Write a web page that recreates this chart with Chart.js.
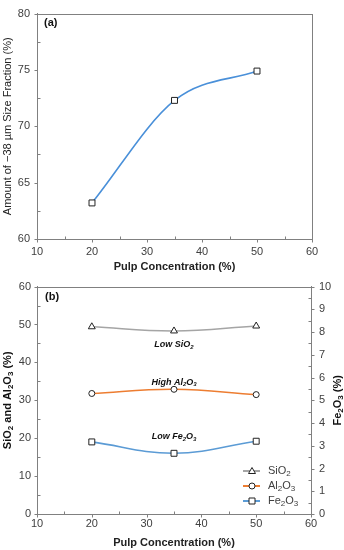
<!DOCTYPE html>
<html>
<head>
<meta charset="utf-8">
<script src="https://cdn.jsdelivr.net/npm/chart.js@4/dist/chart.umd.min.js"></script>
<style>
    html, body { margin: 0; padding: 0; background: #fff; }
    #wrap { position: relative; width: 344px; height: 550px; }
    canvas { position: absolute; left: 0; }
</style>
</head>
<body>
<div id="wrap">
    <canvas id="chartA" width="344" height="272" style="top:0px"></canvas>
    <canvas id="chartB" width="344" height="278" style="top:272px"></canvas>
</div>
<script>
// data
const pulpConc = [20, 35, 50];
const sizeFraction = [63.2, 72.3, 74.9];
const sio2 = [49.4, 48.3, 49.6];
const al2o3 = [31.8, 32.9, 31.5];
const fe2o3 = [3.17, 2.67, 3.2];

// names use _N for a subscript digit
const seriesNames = ['SiO_2', 'Al_2O_3', 'Fe_2O_3'];
const seriesColors = ['#a5a5a5', '#ed7d31', '#5b9bd5'];
const seriesMarkers = ['triangle', 'circle', 'rect'];

const FONT = "'Liberation Sans', Arial, sans-serif";
const AXIS_COLOR = '#808080';
const TEXT_COLOR = '#404040';

Chart.defaults.font.family = FONT;
Chart.defaults.color = TEXT_COLOR;

// Draw a string with _N subscripts
function drawRich(ctx, str, x, y, size, style, align) {
    const parts = [];
    str.split(/(_\d)/).forEach(p => {
        if (!p) return;
        if (p[0] === '_') parts.push({ t: p.slice(1), sub: true });
        else parts.push({ t: p, sub: false });
    });
    const main = style + ' ' + size + 'px ' + FONT;
    const sub = style + ' ' + Math.round(size * 0.7) + 'px ' + FONT;
    let w = 0;
    parts.forEach(p => {
        ctx.font = p.sub ? sub : main;
        p.w = ctx.measureText(p.t).width;
        w += p.w;
    });
    let cx = align === 'center' ? x - w / 2 : x;
    ctx.textAlign = 'left';
    ctx.textBaseline = 'middle';
    parts.forEach(p => {
        ctx.font = p.sub ? sub : main;
        ctx.fillText(p.t, cx, y + (p.sub ? size * 0.28 : 0));
        cx += p.w;
    });
}

function drawMarker(ctx, style, x, y) {
    ctx.save();
    ctx.fillStyle = '#fff';
    ctx.strokeStyle = '#222';
    ctx.lineWidth = 1;
    ctx.beginPath();
    if (style === 'rect') {
        ctx.rect(x - 3, y - 3, 6, 6);
    } else if (style === 'circle') {
        ctx.arc(x, y, 3, 0, Math.PI * 2);
    } else {
        ctx.moveTo(x, y - 3.5);
        ctx.lineTo(x + 3.5, y + 2.5);
        ctx.lineTo(x - 3.5, y + 2.5);
        ctx.closePath();
    }
    ctx.fill();
    ctx.stroke();
    ctx.restore();
}

// Box around the plot plus small tick marks (minor inside, major outside)
function drawFrame(chart, axes) {
    const ctx = chart.ctx;
    const a = chart.chartArea;
    ctx.save();
    ctx.strokeStyle = AXIS_COLOR;
    ctx.lineWidth = 1;
    ctx.strokeRect(Math.round(a.left) + 0.5, Math.round(a.top) + 0.5,
        Math.round(a.right - a.left), Math.round(a.bottom - a.top));
    axes.forEach(ax => {
        const s = chart.scales[ax.id];
        for (let v = s.min; v <= s.max + 1e-9; v += ax.minor) {
            const isMajor = Math.abs(v / ax.major - Math.round(v / ax.major)) < 1e-6;
            const p = Math.round(s.getPixelForValue(v)) + 0.5;
            ctx.beginPath();
            if (ax.side === 'bottom') {
                const y = Math.round(a.bottom) + 0.5;
                ctx.moveTo(p, y);
                ctx.lineTo(p, isMajor ? y + 3 : y - 3);
            } else if (ax.side === 'left') {
                const x = Math.round(a.left) + 0.5;
                ctx.moveTo(x, p);
                ctx.lineTo(isMajor ? x - 3 : x + 3, p);
            } else {
                const x = Math.round(a.right) + 0.5;
                ctx.moveTo(x, p);
                ctx.lineTo(isMajor ? x + 3 : x - 3, p);
            }
            ctx.stroke();
        }
    });
    ctx.restore();
}

function xScale(tickPad, titlePadBottom, height) {
    return {
        type: 'linear',
        min: 10,
        max: 60,
        ticks: { stepSize: 10, padding: tickPad, font: { size: 11 }, color: TEXT_COLOR },
        grid: { display: false, drawTicks: false },
        border: { display: true, color: AXIS_COLOR },
        title: {
            display: true,
            text: 'Pulp Concentration (%)',
            color: '#222',
            font: { size: 11, weight: 'bold', lineHeight: 1 },
            padding: { top: 0, bottom: titlePadBottom }
        },
        afterFit: s => { s.height = height; }
    };
}

// ---- chart (a) ----
new Chart(document.getElementById('chartA'), {
    type: 'line',
    data: {
        datasets: [{
            data: pulpConc.map((x, i) => ({ x: x, y: sizeFraction[i] })),
            borderColor: '#4a90d9',
            borderWidth: 1.6,
            cubicInterpolationMode: 'monotone',
            pointStyle: 'rect',
            pointRadius: 4.2,
            pointBackgroundColor: '#fff',
            pointBorderColor: '#222',
            pointBorderWidth: 1
        }]
    },
    options: {
        responsive: false,
        animation: false,
        devicePixelRatio: 1,
        layout: { autoPadding: false, padding: { top: 6, right: 32, left: 0, bottom: 0 } },
        scales: {
            x: xScale(6, 0, 33),
            y: {
                min: 60,
                max: 80,
                ticks: { stepSize: 5, padding: 7, font: { size: 11 }, color: TEXT_COLOR },
                grid: { display: false, drawTicks: false },
                border: { display: true, color: AXIS_COLOR },
                title: {
                    display: true,
                    text: 'Amount of \u221238 \u00b5m Size Fraction (%)',
                    color: '#222',
                    font: { size: 11, lineHeight: 1 },
                    padding: { top: 2.5, bottom: 0 }
                },
                afterFit: s => { s.width = 37; }
            }
        },
        plugins: { legend: { display: false }, tooltip: { enabled: false } }
    },
    plugins: [{
        id: 'frameA',
        afterDraw(chart) {
            drawFrame(chart, [
                { id: 'x', minor: 5, major: 10, side: 'bottom' },
                { id: 'y', minor: 2.5, major: 5, side: 'left' }
            ]);
            const ctx = chart.ctx;
            ctx.save();
            ctx.fillStyle = '#111';
            drawRich(ctx, '(a)', 44, 23, 11, 'bold', 'left');
            ctx.restore();
        }
    }]
});

// ---- chart (b) ----
const valuesB = [sio2, al2o3, fe2o3];
const axisB = ['y', 'y', 'y1'];

// annotation texts placed at x = 35 (left axis units)
const notes = [
    { text: 'Low SiO_2', y: 44.6 },
    { text: 'High Al_2O_3', y: 34.8 },
    { text: 'Low Fe_2O_3', y: 20.4 }
];

new Chart(document.getElementById('chartB'), {
    type: 'line',
    data: {
        datasets: valuesB.map((vals, k) => ({
            label: seriesNames[k],
            yAxisID: axisB[k],
            data: pulpConc.map((x, i) => ({ x: x, y: vals[i] })),
            borderColor: seriesColors[k],
            borderWidth: 1.6,
            tension: 0.4,
            pointStyle: seriesMarkers[k],
            pointRadius: seriesMarkers[k] === 'rect' ? 4.2 : (seriesMarkers[k] === 'circle' ? 3 : 4),
            pointBackgroundColor: '#fff',
            pointBorderColor: '#222',
            pointBorderWidth: 1
        }))
    },
    options: {
        responsive: false,
        animation: false,
        devicePixelRatio: 1,
        layout: { autoPadding: false, padding: { top: 9, right: 0, left: 0, bottom: 0 } },
        scales: {
            x: xScale(3, 1.5, 36),
            y: {
                position: 'left',
                min: 0,
                max: 60,
                ticks: { stepSize: 10, padding: 6, font: { size: 11 }, color: TEXT_COLOR },
                grid: { display: false, drawTicks: false },
                border: { display: true, color: AXIS_COLOR },
                afterFit: s => { s.width = 37; }
            },
            y1: {
                position: 'right',
                min: 0,
                max: 10,
                ticks: { stepSize: 1, padding: 8, font: { size: 11 }, color: TEXT_COLOR },
                grid: { display: false, drawTicks: false },
                border: { display: true, color: AXIS_COLOR },
                afterFit: s => { s.width = 33; }
            }
        },
        plugins: { legend: { display: false }, tooltip: { enabled: false } }
    },
    plugins: [{
        id: 'frameB',
        afterDraw(chart) {
            drawFrame(chart, [
                { id: 'x', minor: 5, major: 10, side: 'bottom' },
                { id: 'y', minor: 5, major: 10, side: 'left' },
                { id: 'y1', minor: 0.5, major: 1, side: 'right' }
            ]);
            const ctx = chart.ctx;
            const a = chart.chartArea;
            const xs = chart.scales.x, ys = chart.scales.y;
            ctx.save();
            ctx.fillStyle = '#111';
            drawRich(ctx, '(b)', 45, 25, 11, 'bold', 'left');

            // annotations
            notes.forEach(n => {
                drawRich(ctx, n.text, xs.getPixelForValue(35), ys.getPixelForValue(n.y), 9, 'italic bold', 'center');
            });

            // axis titles
            const midY = (a.top + a.bottom) / 2;
            ctx.save();
            ctx.translate(8, midY);
            ctx.rotate(-Math.PI / 2);
            drawRich(ctx, 'SiO_2 and Al_2O_3 (%)', 0, 0, 11, 'bold', 'center');
            ctx.restore();
            ctx.save();
            ctx.translate(338, midY);
            ctx.rotate(-Math.PI / 2);
            drawRich(ctx, 'Fe_2O_3 (%)', 0, 0, 11, 'bold', 'center');
            ctx.restore();

            // legend, bottom right
            seriesNames.forEach((name, k) => {
                const y = 199 + k * 15;
                ctx.strokeStyle = seriesColors[k];
                ctx.lineWidth = 2;
                ctx.beginPath();
                ctx.moveTo(243, y);
                ctx.lineTo(260, y);
                ctx.stroke();
                drawMarker(ctx, seriesMarkers[k], 252, y);
                ctx.fillStyle = TEXT_COLOR;
                drawRich(ctx, name, 268, y, 11, 'normal', 'left');
            });
            ctx.restore();
        }
    }]
});
</script>
</body>
</html>
